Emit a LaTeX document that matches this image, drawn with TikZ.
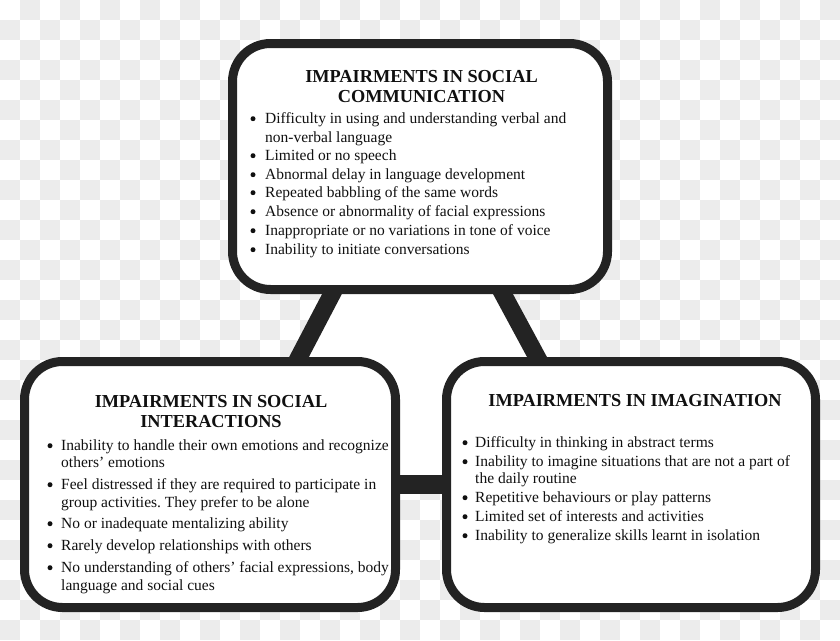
\documentclass[tikz,border=0pt]{standalone}
\usepackage{fontspec}
\setmainfont{Liberation Serif}
\usetikzlibrary{calc}
\definecolor{checkgray}{HTML}{ECECEC}
\definecolor{edge}{HTML}{232323}
\definecolor{ink}{HTML}{101010}
\pgfdeclarelayer{bg}
\pgfsetlayers{bg,main}
\frenchspacing
\tikzset{
  box/.style={draw=edge, line width=9pt, fill=white, rounded corners=38pt,
    inner sep=0pt, outer sep=0pt},
  link/.style={draw=edge, line width=17.5pt},
  hlink/.style={draw=edge, line width=19pt},
  ttl/.style={inner sep=0pt, anchor=base, text=ink,
    font=\fontsize{18.3}{20}\selectfont\bfseries\frenchspacing},
  body/.style={inner sep=0pt, anchor=base west, text=ink,
    font=\fontsize{15.5}{18.7}\selectfont\frenchspacing},
  dot/.style={fill=ink}
}
\begin{document}
\begin{tikzpicture}[x=1pt,y=-1pt]
\useasboundingbox (0,0) rectangle (840,640);
% boxes
\node[box, minimum width=375pt, minimum height=246pt] (top) at (420,166.5) {};
\node[box, minimum width=371pt, minimum height=246pt] (left) at (210,484.5) {};
\node[box, minimum width=369pt, minimum height=246pt] (right) at (631,484.5) {};
% connectors and background
\begin{pgfonlayer}{bg}
  \fill[white] (0,0) rectangle (840,640);
  \foreach \i in {0,...,41}{
    \foreach \j in {0,...,31}{
      \pgfmathtruncatemacro{\pp}{mod(\i+\j,2)}
      \ifnum\pp=1 \fill[checkgray] (\i*20,\j*20) rectangle ++(20,20); \fi
    }
  }
  \coordinate (la) at ($(top.south west)+(104.2,-4.5)$);
  \coordinate (lb) at ($(left.north west)+(270.3,3.5)$);
  \coordinate (ra) at ($(top.south west)+(265.6,-4.5)$);
  \coordinate (rb) at ($(right.north west)+(94.8,3.5)$);
  \fill[white] (la) -- (ra) -- (rb) -- (500,365) -- (500,485) -- (340,485) -- (340,365) -- (lb) -- cycle;
  \draw[link] (la) -- (lb);
  \draw[link] (ra) -- (rb);
  \draw[hlink] (left.east) -- (right.west);
\end{pgfonlayer}
% titles
\node[ttl] (t1a) at (421.5,82) {IMPAIRMENTS IN SOCIAL};
\node[ttl] (t1b) at (421.5,102) {COMMUNICATION};
\node[ttl] (t2a) at (211,407) {IMPAIRMENTS IN SOCIAL};
\node[ttl] (t2b) at (211,427) {INTERACTIONS};
\node[ttl] (t3a) at (635,406) {IMPAIRMENTS IN IMAGINATION};
% top box items
\foreach \n/\yy/\b/\t in {
  1/123/1/{Difficulty in using and understanding verbal and},
  2/142/0/{non-verbal language},
  3/160/1/{Limited or no speech},
  4/179/1/{Abnormal delay in language development},
  5/197/1/{Repeated babbling of the same words},
  6/216/1/{Absence or abnormality of facial expressions},
  7/235/1/{Inappropriate or no variations in tone of voice},
  8/254/1/{Inability to initiate conversations}}{
  \node[body] (c\n) at (265,\yy) {\t};
  \ifnum\b=1 \fill[dot] (253,\yy-4.3) circle (2.5pt); \fi
}
% left box items
\foreach \n/\yy/\b/\t in {
  1/450/1/{Inability to handle their own emotions and recognize},
  2/467/0/{others’ emotions},
  3/489/1/{Feel distressed if they are required to participate in},
  4/507/0/{group activities. They prefer to be alone},
  5/528/1/{No or inadequate mentalizing ability},
  6/550/1/{Rarely develop relationships with others},
  7/572/1/{No understanding of others’ facial expressions, body},
  8/590/0/{language and social cues}}{
  \node[body] (s\n) at (61,\yy) {\t};
  \ifnum\b=1 \fill[dot] (50,\yy-4.3) circle (2.5pt); \fi
}
% right box items
\foreach \n/\yy/\b/\t in {
  1/447/1/{Difficulty in thinking in abstract terms},
  2/466/1/{Inability to imagine situations that are not a part of},
  3/483/0/{the daily routine},
  4/502/1/{Repetitive behaviours or play patterns},
  5/521/1/{Limited set of interests and activities},
  6/540/1/{Inability to generalize skills learnt in isolation}}{
  \node[body] (m\n) at (475,\yy) {\t};
  \ifnum\b=1 \fill[dot] (465,\yy-4.3) circle (2.5pt); \fi
}
\end{tikzpicture}
\end{document}
